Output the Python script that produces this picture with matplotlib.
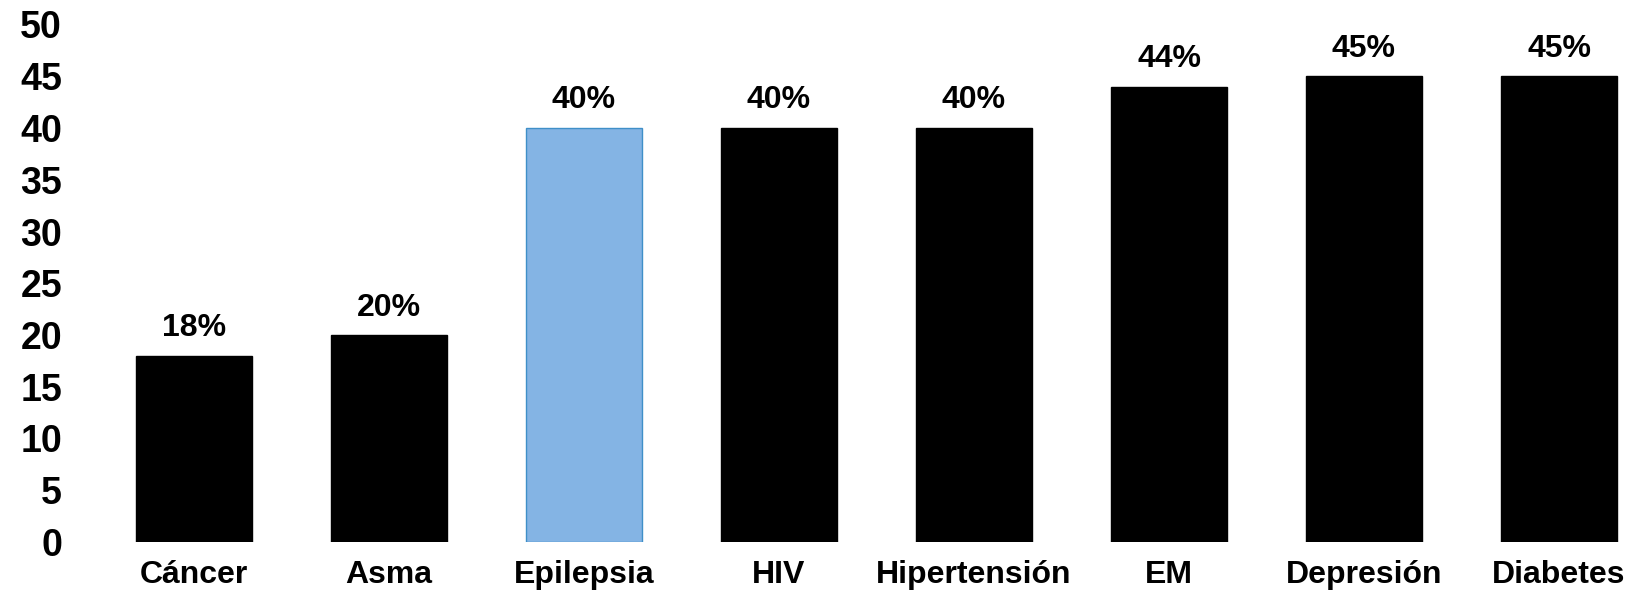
import matplotlib.pyplot as plt

plt.rcParams["font.family"] = ["Liberation Sans", "DejaVu Sans"]
plt.rcParams["font.weight"] = "bold"

CATEGORIES = ["Cáncer", "Asma", "Epilepsia", "HIV", "Hipertensión", "EM",
              "Depresión", "Diabetes"]
VALUES = [18, 20, 40, 40, 40, 44, 45, 45]
HIGHLIGHT = "Epilepsia"
Y_TICKS = list(range(0, 51, 5))


def main():
    fig = plt.figure(figsize=(16.45, 6), dpi=100)
    # axes placed in pixel terms: left 80, bottom 58, top at 24.5 from top
    ax = fig.add_axes([80 / 1645, 58 / 600, 1 - 80 / 1645, 517.5 / 600])

    colors = ["#84B4E4" if c == HIGHLIGHT else "black" for c in CATEGORIES]
    edges = ["#3F8FC8" if c == HIGHLIGHT else "black" for c in CATEGORIES]
    x = list(range(len(CATEGORIES)))
    bars = ax.bar(x, VALUES, width=0.595, color=colors, edgecolor=edges,
                  linewidth=1)

    for bar, val in zip(bars, VALUES):
        ax.annotate(f"{val}%", (bar.get_x() + bar.get_width() / 2, val),
                    xytext=(0, 9), textcoords="offset points",
                    ha="center", va="bottom", fontsize=23, fontweight="bold")

    ax.set_xlim((80 - 194) / 195, (1645 - 194) / 195)
    ax.set_ylim(0, 50)
    ax.set_yticks(Y_TICKS)
    ax.set_xticks(x)
    ax.set_xticklabels(CATEGORIES)
    ax.tick_params(axis="y", length=0, pad=13, labelsize=27)
    ax.tick_params(axis="x", length=0, pad=13, labelsize=23)
    for lbl in ax.get_xticklabels() + ax.get_yticklabels():
        lbl.set_fontweight("bold")
    for spine in ax.spines.values():
        spine.set_visible(False)

    fig.savefig("out.png", dpi=100)


if __name__ == "__main__":
    main()
